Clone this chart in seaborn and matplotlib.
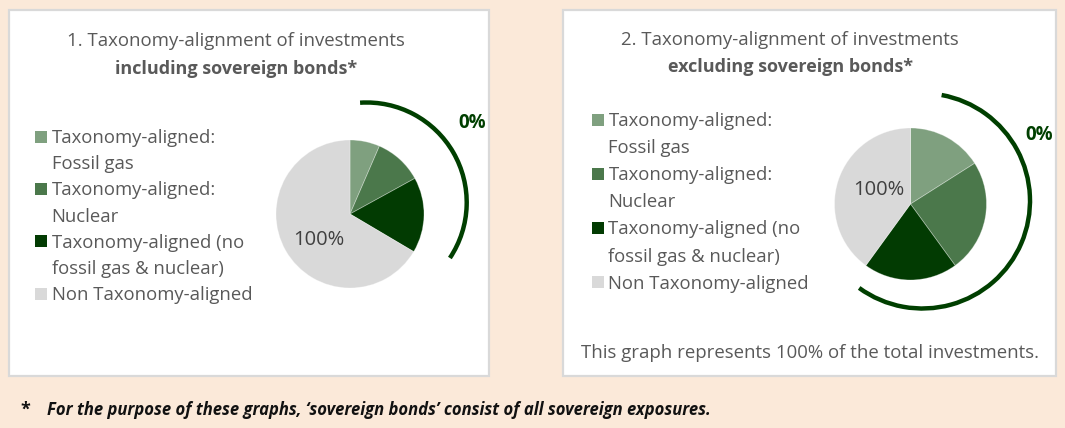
import matplotlib
matplotlib.use("Agg")
import matplotlib.pyplot as plt
import seaborn as sns
import numpy as np
from matplotlib.patches import Arc, Rectangle

# ---------------- data ----------------
categories = [
    "Taxonomy-aligned:\nFossil gas",
    "Taxonomy-aligned:\nNuclear",
    "Taxonomy-aligned (no\nfossil gas & nuclear)",
    "Non Taxonomy-aligned",
]
incl_values = [6.5, 10.5, 16.5, 66.5]     # chart 1 (including sovereign bonds)
excl_values = [16.0, 24.0, 20.0, 40.0]    # chart 2 (excluding sovereign bonds)
aligned_pct = ["0%", "0%"]
non_aligned_pct = ["100%", "100%"]
titles_line1 = ["1. Taxonomy-alignment of investments",
                "2. Taxonomy-alignment of investments"]
titles_line2 = ["including sovereign bonds*", "excluding sovereign bonds*"]
note_text = "This graph represents 100% of the total investments."
footnote_text = ("For the purpose of these graphs, \u2018sovereign bonds\u2019 "
                 "consist of all sovereign exposures.")

# ---------------- style ----------------
sns.set_theme(style="white")
plt.rcParams["font.family"] = ["Open Sans", "DejaVu Sans"]

BG = "#FBE9D9"
TXT = "#595959"
ARC = "#003F00"
palette = sns.color_palette(["#7FA07F", "#4B784B", "#023B02", "#D9D9D9"])

W, H = 1065, 428
fig = plt.figure(figsize=(W / 100, H / 100), dpi=100, facecolor=BG)


def fx(x):
    return x / W


def fy(y):
    return 1 - y / H


# panels
for (x0, x1) in [(9, 489), (563, 1056)]:
    fig.add_artist(Rectangle((fx(x0), fy(376)), (x1 - x0) / W, (376 - 10) / H,
                             transform=fig.transFigure, facecolor="white",
                             edgecolor="#D9D9D9", lw=1.6, zorder=-1))

# pies: center px, radius px, half-size of axes px, arc params, label positions
pie_specs = [
    dict(vals=incl_values, cx=350, cy=214, r=74, half=130,
         arc_c=(366.7, 202.5), arc_r=100.0, th1=-33.7, th2=93.8,
         lab0=(471.7, 122.5), lab100=(318.5, 240)),
    dict(vals=excl_values, cx=910.5, cy=204, r=76, half=135,
         arc_c=(922.4, 200.9), arc_r=107.6, th1=-126.0, th2=79.7,
         lab0=(1039.5, 135.5), lab100=(878.3, 190)),
]

for i, s in enumerate(pie_specs):
    cx, cy, r, half = s["cx"], s["cy"], s["r"], s["half"]
    ax = fig.add_axes([fx(cx - half), fy(cy + half), 2 * half / W, 2 * half / H])
    ax.pie(s["vals"], colors=palette, startangle=90, counterclock=False,
           wedgeprops=dict(edgecolor=(1, 1, 1, 0.35), linewidth=0.6))
    lim = half / r
    ax.set_xlim(-lim, lim)
    ax.set_ylim(-lim, lim)
    ax.set_aspect("equal", adjustable="box")
    ax.axis("off")

    def d(px, py):
        return ((px - cx) / r, (cy - py) / r)

    ac = d(*s["arc_c"])
    ax.add_patch(Arc(ac, 2 * s["arc_r"] / r, 2 * s["arc_r"] / r,
                     theta1=s["th1"], theta2=s["th2"], color=ARC, lw=3.2,
                     clip_on=False))
    ax.text(*d(*s["lab100"]), non_aligned_pct[i], ha="center", va="center",
            fontsize=14.5, color="#404040")
    ax.text(*d(*s["lab0"]), aligned_pct[i], ha="center", va="center",
            fontsize=13.5, fontweight="bold", color=ARC, clip_on=False)

# titles
for tx, l1, l2, y1, y2 in [(236, titles_line1[0], titles_line2[0], 41.5, 69),
                           (790, titles_line1[1], titles_line2[1], 40, 67)]:
    fig.text(fx(tx), fy(y1), l1, ha="center", va="center", fontsize=13.4,
             color=TXT)
    fig.text(fx(tx), fy(y2), l2, ha="center", va="center", fontsize=13,
             fontweight="bold", color=TXT)

# legends
for (sq_x, tx_x, y0, step) in [(34.5, 51.5, 136.5, 26.2), (592, 608.5, 119.5, 27.1)]:
    k = 0
    for c, lab in zip(palette, categories):
        lines = lab.split("\n")
        yc = y0 + k * step
        fig.add_artist(Rectangle((fx(sq_x), fy(yc + 6)), 12 / W, 12 / H,
                                 transform=fig.transFigure, facecolor=c,
                                 edgecolor="none"))
        for ln in lines:
            fig.text(fx(tx_x), fy(y0 + k * step + 6.5), ln, ha="left",
                     va="baseline", fontsize=13.3, color=TXT)
            k += 1

# note in panel 2
fig.text(fx(810), fy(353.5), note_text, ha="center", va="center",
         fontsize=13.4, color=TXT)

# footnote
fig.text(fx(20), fy(410), "*", ha="left", va="center", fontsize=13,
         fontweight="bold", color="#111111")
fig.text(fx(47), fy(410), footnote_text, ha="left", va="center", fontsize=12.0,
         fontweight="bold", fontstyle="italic", color="#111111")

fig.savefig("out.png", dpi=100, facecolor=BG)
